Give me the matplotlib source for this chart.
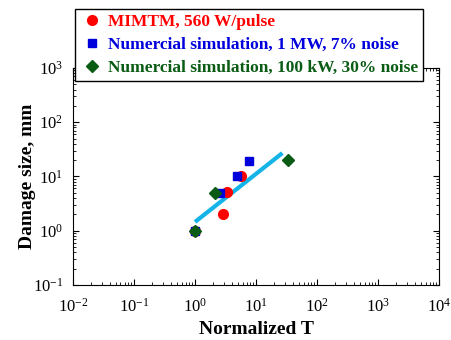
import matplotlib
matplotlib.use("Agg")
import matplotlib.pyplot as plt
import numpy as np

plt.rcParams['font.family'] = ['Liberation Serif', 'DejaVu Serif']
plt.rcParams['mathtext.fontset'] = 'custom'
plt.rcParams['mathtext.rm'] = 'Liberation Serif'

# data
mimtm_x = [1.0, 2.9, 3.3, 5.7]
mimtm_y = [1.0, 2.0, 5.1, 10.0]

sim1_x = [1.0, 2.6, 4.9, 7.7]
sim1_y = [1.0, 4.9, 10.0, 19.5]

sim2_x = [1.0, 2.1, 33.0]
sim2_y = [1.0, 5.0, 20.0]

fit_x = [1.0, 27.0]
fit_y = [1.45, 27.0]

labels = ['MIMTM, 560 W/pulse',
          'Numercial simulation, 1 MW, 7% noise',
          'Numercial simulation, 100 kW, 30% noise']
colors = ['#ff0000', '#0000dd', '#0a5c14']

fig = plt.figure(figsize=(4.52, 3.40), dpi=100)
ax = fig.add_axes([0.1615, 0.162, 0.810, 0.638])

ax.plot(fit_x, fit_y, color='#14b4e8', lw=3, solid_capstyle='butt', zorder=2)
l1, = ax.plot(mimtm_x, mimtm_y, 'o', color=colors[0], ms=7, ls='none', zorder=3)
l2, = ax.plot(sim1_x, sim1_y, 's', color=colors[1], ms=6, ls='none', zorder=3)
l3, = ax.plot(sim2_x, sim2_y, 'D', color=colors[2], ms=6, ls='none', zorder=4)

ax.set_xscale('log')
ax.set_yscale('log')
ax.set_xlim(1e-2, 1e4)
ax.set_ylim(1e-1, 1e3)
ax.tick_params(which='both', direction='in', top=True, right=True, labelsize=12)
ax.tick_params(which='major', length=4)
ax.tick_params(which='minor', length=2)
ax.tick_params(axis='x', which='major', pad=9)
ax.tick_params(axis='y', which='major', pad=7)

ax.set_xlabel('Normalized T', fontsize=14, fontweight='bold', labelpad=4)
ax.set_ylabel('Damage size, mm', fontsize=14, fontweight='bold', labelpad=-2)

leg = fig.legend([l1, l2, l3], labels,
                 loc='upper left', bbox_to_anchor=(75 / 452, 1 - 9 / 340),
                 borderaxespad=0, frameon=True, fancybox=False,
                 edgecolor='black', framealpha=1,
                 prop={'weight': 'bold', 'size': 12.5},
                 handletextpad=0.2, labelspacing=0.38, borderpad=0.3,
                 handlelength=1.4)
leg.get_frame().set_linewidth(1.0)
for text, c in zip(leg.get_texts(), colors):
    text.set_color(c)

fig.savefig('out.png', dpi=100)
